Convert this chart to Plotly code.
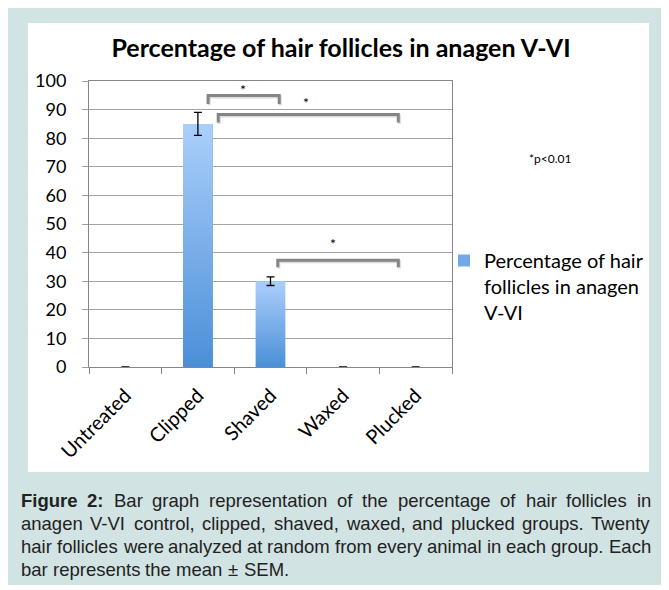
import plotly.graph_objects as go

# ---------------- data ----------------
categories = ["Untreated", "Clipped", "Shaved", "Waxed", "Plucked"]
values = [0, 85, 30, 0, 0]
sem = [0, 4, 1.5, 0, 0]
series_name = "Percentage of hair<br>follicles in anagen<br>V-VI"
chart_title = "Percentage of hair follicles in anagen V-VI"
y_ticks = [0, 10, 20, 30, 40, 50, 60, 70, 80, 90, 100]

# significance brackets (category-index x, value y)
bracket_left = [1.14, 1.28, 2.10]
bracket_right = [2.12, 3.76, 3.76]
bracket_top = [94.9, 88.3, 37.3]
bracket_leg = [92.0, 85.5, 34.9]
star_x = [1.62, 2.49, 2.86]
star_y = [97.0, 92.5, 43.3]
p_note = "*p<0.01"

caption_bold = "Figure 2:"
caption_lines = [
    "Figure 2: Bar graph representation of the percentage of hair follicles in",
    "anagen V-VI control, clipped, shaved, waxed, and plucked groups. Twenty",
    "hair follicles were analyzed at random from every animal in each group. Each",
    "bar represents the mean ± SEM.",
]

# ---------------- layout geometry (page pixels) ----------------
OFF = 8                      # default page margin of the html body
W, H = 669 - OFF, 590 - OFF  # figure size so the page fits the window
L, R, T, B = 89, 452, 81, 367


def px(x):
    return (x - L) / (R - L)


def py(y):
    return (B - y) / (B - T)


BAR_W = 0.41
FONT = "Lato, Carlito, Calibri, sans-serif"
CAP_FONT = "Liberation Sans, Arial, sans-serif"
CAP_SIZE = 18.5

# Arial / Liberation Sans advance widths (1/1000 em)
REG = {" ": 278, ",": 278, ".": 278, ":": 278, "-": 333, "±": 584, "2": 556,
       "a": 556, "b": 556, "c": 500, "d": 556, "e": 556, "f": 278, "g": 556, "h": 556,
       "i": 222, "j": 222, "k": 500, "l": 222, "m": 833, "n": 556, "o": 556, "p": 556,
       "q": 556, "r": 333, "s": 500, "t": 278, "u": 556, "v": 500, "w": 722, "x": 500,
       "y": 500, "z": 500, "A": 667, "B": 667, "E": 667, "F": 611, "I": 278, "M": 833,
       "S": 667, "T": 611, "V": 667}
BOLD = {"F": 611, "i": 278, "g": 611, "u": 611, "r": 389, "e": 556, "2": 556, ":": 333}


def word_width(w, bold):
    table = BOLD if bold else REG
    return sum(table.get(c, 556) for c in w) * CAP_SIZE / 1000.0


idx = list(range(len(categories)))

fig = go.Figure()

# real bars (carry data + legend)
fig.add_trace(go.Bar(
    x=idx, y=values, width=BAR_W, name=series_name,
    marker=dict(color="#72a8e8", line=dict(width=0)),
    showlegend=True,
))

# gradient overlay on each bar
for i, v in zip(idx, values):
    if v > 0:
        fig.add_trace(go.Scatter(
            x=[i - BAR_W / 2, i - BAR_W / 2, i + BAR_W / 2, i + BAR_W / 2, i - BAR_W / 2],
            y=[0, v, v, 0, 0],
            mode="lines", fill="toself", line=dict(width=0),
            fillgradient=dict(type="vertical",
                              colorscale=[[0, "#4b8fd8"], [1, "#abcffb"]]),
            showlegend=False, hoverinfo="skip",
        ))

# error bars
fig.add_trace(go.Scatter(
    x=idx, y=values, mode="markers",
    marker=dict(size=1, color="rgba(0,0,0,0)"),
    error_y=dict(type="data", array=sem, color="black", thickness=1.3, width=4),
    showlegend=False, hoverinfo="skip",
))

# significance brackets (shadow + line)
for xl, xr, yt, yl in zip(bracket_left, bracket_right, bracket_top, bracket_leg):
    fig.add_trace(go.Scatter(
        x=[xl + 0.015, xl + 0.015, xr + 0.015, xr + 0.015],
        y=[yl - 0.5, yt - 0.5, yt - 0.5, yl - 0.5],
        mode="lines", line=dict(color="rgba(150,150,150,0.35)", width=3),
        showlegend=False, hoverinfo="skip",
    ))
    fig.add_trace(go.Scatter(
        x=[xl, xl, xr, xr], y=[yl, yt, yt, yl],
        mode="lines", line=dict(color="#858585", width=3),
        showlegend=False, hoverinfo="skip",
    ))

annotations = []
for sx, sy in zip(star_x, star_y):
    annotations.append(dict(x=sx, y=sy, xref="x", yref="y", text="*",
                            xanchor="center", yanchor="middle",
                            showarrow=False, font=dict(family=FONT, size=14, color="#000")))

annotations.append(dict(x=px(550), y=py(158), xref="paper", yref="paper", text=p_note,
                        xanchor="center", yanchor="middle",
                        showarrow=False, font=dict(family=FONT, size=12, color="#000")))

# caption, justified word by word (last line ragged)
cap_left, cap_right = 20, 650
cap_y = [500, 523, 546, 569]
bold_words = caption_bold.split(" ")
for li, (line, cy) in enumerate(zip(caption_lines, cap_y)):
    words = line.split(" ")
    flags = [li == 0 and k < len(bold_words) for k in range(len(words))]
    widths = [word_width(w, b) for w, b in zip(words, flags)]
    if li < len(caption_lines) - 1:
        gap = (cap_right - cap_left - sum(widths)) / (len(words) - 1)
    else:
        gap = REG[" "] * CAP_SIZE / 1000.0
    x = cap_left
    for w, b, ww in zip(words, flags, widths):
        annotations.append(dict(x=px(x), y=py(cy), xref="paper", yref="paper",
                                text=("<b>" + w + "</b>") if b else w,
                                xanchor="left", yanchor="middle", showarrow=False,
                                borderpad=0,
                                font=dict(family=CAP_FONT, size=CAP_SIZE, color="#222")))
        x += ww + gap

shapes = [
    dict(type="rect", xref="paper", yref="paper", x0=px(8), x1=px(669), y0=py(8), y1=py(585),
         fillcolor="#d1e3e2", line=dict(width=0), layer="below"),
    dict(type="rect", xref="paper", yref="paper", x0=px(28), x1=px(649), y0=py(23), y1=py(472),
         fillcolor="white", line=dict(width=0), layer="below"),
]

fig.update_layout(
    width=W, height=H, autosize=False,
    margin=dict(l=L - OFF, r=W - (R - OFF), t=T - OFF, b=H - (B - OFF)),
    paper_bgcolor="white", plot_bgcolor="white",
    title=dict(text="<b>" + chart_title + "</b>", x=(341 - OFF) / W, y=1 - (48 - OFF) / H,
               xanchor="center", yanchor="middle",
               font=dict(family=FONT, size=25, color="#000")),
    showlegend=True,
    legend=dict(x=px(444), y=py(241), xanchor="left", yanchor="top", valign="top",
                bgcolor="rgba(0,0,0,0)", font=dict(family=FONT, size=20, color="#000")),
    xaxis=dict(range=[-0.5, 4.5], tickmode="array", tickvals=idx, ticktext=categories,
               tickangle=-45, ticks="", showgrid=False, zeroline=False,
               showline=True, linecolor="#868686", linewidth=1, mirror=True,
               ticklabelstandoff=8,
               tickfont=dict(family=FONT, size=20, color="#000"),
               minor=dict(tickmode="array", tickvals=[-0.5, 0.5, 1.5, 2.5, 3.5, 4.5],
                          ticks="outside", ticklen=6, tickcolor="#868686", showgrid=False)),
    yaxis=dict(range=[0, 100], tickmode="array", tickvals=y_ticks,
               ticks="outside", ticklen=6, tickcolor="#a0a0a0",
               showgrid=True, gridcolor="#a3a3a3", gridwidth=1, zeroline=False,
               showline=True, linecolor="#868686", linewidth=1, mirror=True,
               ticklabelstandoff=12,
               tickfont=dict(family=FONT, size=18, color="#000")),
    annotations=annotations,
    shapes=shapes,
    bargap=0,
)

fig.write_html("out.html")
